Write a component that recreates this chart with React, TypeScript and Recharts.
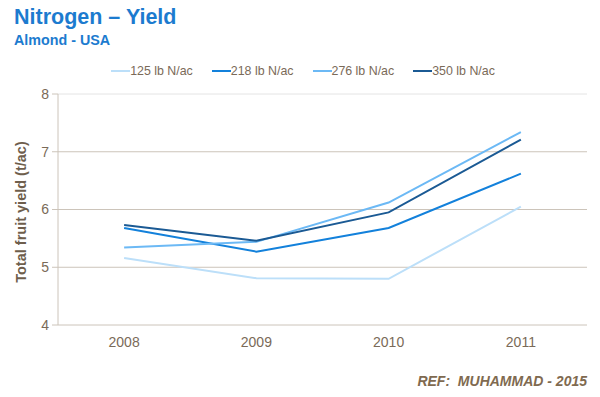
import React from 'react';
import { LineChart, Line, XAxis, YAxis, CartesianGrid } from 'recharts';

const years = [2008, 2009, 2010, 2011];
const n125 = [5.16, 4.81, 4.8, 6.05];
const n218 = [5.68, 5.27, 5.68, 6.62];
const n276 = [5.34, 5.44, 6.12, 7.34];
const n350 = [5.73, 5.46, 5.95, 7.21];
const yTicks = [4, 5, 6, 7, 8];
const bandEdges = [2007.5, 2008.5, 2009.5, 2010.5, 2011.5];

const series = [
  { key: 'n125', name: '125 lb N/ac', color: '#bcdff9' },
  { key: 'n218', name: '218 lb N/ac', color: '#1381db' },
  { key: 'n276', name: '276 lb N/ac', color: '#6cb9f5' },
  { key: 'n350', name: '350 lb N/ac', color: '#1b5a94' },
];

const data = years.map((year, i) => ({
  year,
  n125: n125[i],
  n218: n218[i],
  n276: n276[i],
  n350: n350[i],
}));

const FONT = '"Liberation Sans", Arial, sans-serif';
const TEXT = '#7a6a58';

const ChartLegend = () => (
  <div
    style={{
      position: 'absolute',
      left: 0,
      top: 64,
      width: 606,
      display: 'flex',
      justifyContent: 'center',
      gap: 19,
      fontSize: 12.4,
      color: TEXT,
    }}
  >
    {series.map(s => (
      <div key={s.key} style={{ display: 'flex', alignItems: 'center' }}>
        <span style={{ display: 'inline-block', width: 19, height: 2, background: s.color }} />
        <span>{s.name}</span>
      </div>
    ))}
  </div>
);

const gridLine = (props: any) => (
  <line
    key={props.key ?? `g-${props.index}`}
    x1={props.x1}
    x2={props.x2}
    y1={props.y1}
    y2={props.y2}
    stroke={props.y1 < 100 ? '#e4e4e4' : '#ccc4ba'}
    strokeWidth={1}
  />
);

export default function App() {
  return (
    <div style={{ position: 'relative', width: 600, height: 397, margin: -8, background: '#fff', fontFamily: FONT }}>
      <div style={{ position: 'absolute', left: 14, top: 5, fontSize: 21.5, fontWeight: 'bold', color: '#1c7bcf' }}>
        Nitrogen – Yield
      </div>
      <div style={{ position: 'absolute', left: 14, top: 32, fontSize: 14.3, fontWeight: 'bold', color: '#1c7bcf' }}>
        Almond - USA
      </div>
      <div
        style={{
          position: 'absolute',
          left: 21,
          top: 212,
          transform: 'translate(-50%, -50%) rotate(-90deg)',
          whiteSpace: 'nowrap',
          fontSize: 14.5,
          fontWeight: 'bold',
          color: '#6e5e4c',
        }}
      >
        Total fruit yield (t/ac)
      </div>
      <div
        style={{
          position: 'absolute',
          right: 13,
          top: 373,
          fontSize: 14,
          fontWeight: 'bold',
          fontStyle: 'italic',
          color: '#7f6a50',
        }}
      >
        REF:&nbsp; MUHAMMAD - 2015
      </div>
      <ChartLegend />
      <LineChart width={600} height={397} data={data} margin={{ top: 94, right: 13, bottom: 42, left: 0 }}>
        <CartesianGrid vertical={false} horizontal={gridLine} />
        <XAxis
          xAxisId="edges"
          dataKey="year"
          type="number"
          domain={[2007.5, 2011.5]}
          ticks={bandEdges}
          height={0}
          tick={false}
          tickLine={{ stroke: '#d6d6d6' }}
          axisLine={{ stroke: '#d6d6d6' }}
          allowDataOverflow
        />
        <XAxis
          xAxisId="labels"
          dataKey="year"
          type="number"
          domain={[2007.5, 2011.5]}
          ticks={years}
          height={30}
          tickLine={false}
          axisLine={false}
          tickMargin={6}
          tick={{ fill: TEXT, fontSize: 14, fontFamily: FONT }}
          allowDataOverflow
        />
        <YAxis
          domain={[4, 8]}
          ticks={yTicks}
          width={58}
          tickLine={{ stroke: '#ccc4ba' }}
          axisLine={{ stroke: '#ccc4ba' }}
          tick={{ fill: TEXT, fontSize: 14, fontFamily: FONT }}
          tickMargin={3}
        />
        {series.map(s => (
          <Line
            key={s.key}
            xAxisId="labels"
            type="linear"
            dataKey={s.key}
            name={s.name}
            stroke={s.color}
            strokeWidth={2}
            dot={false}
            activeDot={false}
            isAnimationActive={false}
          />
        ))}
      </LineChart>
    </div>
  );
}
